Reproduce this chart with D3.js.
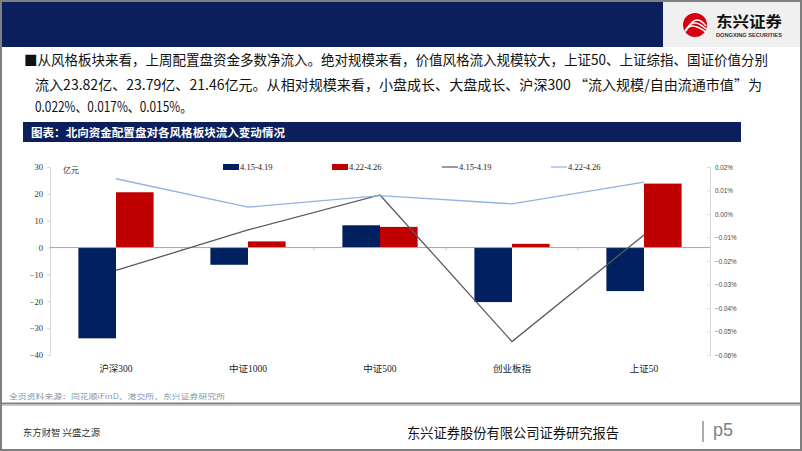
<!DOCTYPE html>
<html><head><meta charset="utf-8">
<script src="https://cdn.jsdelivr.net/npm/d3@7/dist/d3.min.js"></script>
<style>body{margin:0;background:#fff}svg{display:block}</style>
</head><body>
<script>
const categories = ["沪深300","中证1000","中证500","创业板指","上证50"];
const barSeriesNames = ["4.15-4.19","4.22-4.26"];
const barWeek1 = [-33.8,-6.4,8.3,-20.3,-16.2];     // 亿元
const barWeek2 = [20.6,2.3,7.7,1.4,23.82];          // 亿元
const lineWeek1 = [-0.024,-0.0068,0.0081,-0.0543,-0.0089]; // %
const lineWeek2 = [0.015,0.0029,0.0078,0.0043,0.0136];     // %
const leftTicks = [-40,-30,-20,-10,0,10,20,30];
const rightTicks = [-0.06,-0.05,-0.04,-0.03,-0.02,-0.01,0,0.01,0.02];

const W=802,H=451;
const svg=d3.select("body").append("svg").attr("width",W).attr("height",H);
const CJK="'Noto Sans CJK SC','Noto Sans',sans-serif";
const SERIF="'Liberation Serif','Noto Sans CJK SC',serif";

// header
svg.append("rect").attr("x",0).attr("y",0).attr("width",663).attr("height",47).attr("fill","#0b1f5c");
svg.append("rect").attr("x",663).attr("y",0).attr("width",139).attr("height",47).attr("fill","#f0f0f0");
// logo
const lg=svg.append("g");
lg.append("circle").attr("cx",695).attr("cy",25).attr("r",12).attr("fill","#d7000f");
[[-7,3],[-3,0],[1,-3]].forEach(([dx,dy],i)=>{
  lg.append("path").attr("d",`M${684+i*2},${31+dy} Q${695+dx},${16+dy} ${706},${29+dy}`).attr("stroke","#fff").attr("stroke-width",1.6).attr("fill","none");
});
lg.append("text").attr("x",716).attr("y",27).attr("font-family",CJK).attr("font-weight","bold").attr("font-size",15).attr("fill","#111").attr("textLength",66).attr("lengthAdjust","spacingAndGlyphs").text("东兴证券");
lg.append("text").attr("x",716).attr("y",37).attr("font-family","'Liberation Sans',sans-serif").attr("font-weight","bold").attr("font-size",4.5).attr("fill","#333").attr("textLength",66).attr("lengthAdjust","spacingAndGlyphs").text("DONGXING SECURITIES");

// body text
const bodyLines=[
 {x:24,y:65,len:744,t:"■从风格板块来看，上周配置盘资金多数净流入。绝对规模来看，价值风格流入规模较大，上证50、上证综指、国证价值分别"},
 {x:35,y:90,len:727,t:"流入23.82亿、23.79亿、21.46亿元。从相对规模来看，小盘成长、大盘成长、沪深300 “流入规模/自由流通市值”为"},
 {x:35,y:112,len:157,t:"0.022%、0.017%、0.015%。"}
];
bodyLines.forEach(l=>svg.append("text").attr("x",l.x).attr("y",l.y).attr("font-family",CJK).attr("font-size",14).attr("fill","#111")
  .attr("textLength",l.len).attr("lengthAdjust","spacingAndGlyphs").text(l.t));

// title bar
svg.append("rect").attr("x",23).attr("y",122).attr("width",718).attr("height",20).attr("fill","#0b1f5c");
svg.append("text").attr("x",31).attr("y",136.5).attr("font-family",CJK).attr("font-weight","bold").attr("font-size",11.5).attr("fill","#fff")
  .attr("textLength",254).attr("lengthAdjust","spacingAndGlyphs").text("图表：北向资金配置盘对各风格板块流入变动情况");

// chart
const x=d3.scaleBand().domain(categories).range([50,710]).paddingInner(0.43).paddingOuter(0.215);
const xStep=d3.scaleBand().domain(categories).range([50,710]);
const x1=d3.scaleBand().domain(barSeriesNames).range([0,x.bandwidth()]);
const yL=d3.scaleLinear().domain([-40,30]).range([355,167]);
const yR=d3.scaleLinear().domain([-0.06,0.02]).range([355,167]);

// left axis
const ga=svg.append("g").attr("transform","translate(50,0)")
  .call(d3.axisLeft(yL).tickValues(leftTicks).tickSize(3).tickPadding(4).tickFormat(d3.format("d")));
ga.select(".domain").attr("stroke","#d9d9d9");
ga.selectAll(".tick line").attr("stroke","#d9d9d9");
ga.selectAll(".tick text").attr("font-family",SERIF).attr("font-size",8.5).attr("fill","#333");
// right axis
const gr=svg.append("g").attr("transform","translate(710,0)")
  .call(d3.axisRight(yR).tickValues(rightTicks).tickSize(-3).tickPadding(5).tickFormat(d=>d3.format(".2f")(d)+"%"));
gr.select(".domain").attr("stroke","#d9d9d9");
gr.selectAll(".tick line").attr("stroke","#d9d9d9");
gr.selectAll(".tick text").attr("font-family","'Liberation Sans',sans-serif").attr("font-size",6.3).attr("fill","#444");

svg.append("text").attr("x",63).attr("y",173).attr("font-family",CJK).attr("font-size",8).attr("fill","#333").text("亿元");

// bars
const barData=[barWeek1,barWeek2];
const barColors=["#002060","#c00000"];
barData.forEach((vals,si)=>{
  svg.append("g").selectAll("rect").data(vals).join("rect")
   .attr("x",(d,i)=>x(categories[i])+x1(barSeriesNames[si]))
   .attr("width",x1.bandwidth())
   .attr("y",d=>yL(Math.max(0,d)))
   .attr("height",d=>Math.abs(yL(d)-yL(0)))
   .attr("fill",barColors[si]);
});
// baseline with category ticks
svg.append("line").attr("x1",50).attr("x2",710).attr("y1",yL(0)).attr("y2",yL(0)).attr("stroke","#a6a6a6");
categories.forEach((c,i)=>{ if(i>0) svg.append("line").attr("x1",xStep(c)).attr("x2",xStep(c)).attr("y1",yL(0)).attr("y2",yL(0)+3).attr("stroke","#bfbfbf");});

// lines
const lineData=[lineWeek1,lineWeek2];
const lineColors=["#595959","#8eb4e3"];
const cx=c=>x(c)+x.bandwidth()/2;
lineData.forEach((vals,si)=>{
  svg.append("path").datum(vals)
   .attr("d",d3.line().x((d,i)=>cx(categories[i])).y(d=>yR(d)))
   .attr("fill","none").attr("stroke",lineColors[si]).attr("stroke-width",1.3);
});

// category labels
svg.append("g").selectAll("text").data(categories).join("text")
  .attr("x",d=>cx(d)).attr("y",372).attr("text-anchor","middle")
  .attr("font-family",SERIF).attr("font-size",9.5).attr("fill","#222").text(d=>d);

// legend
const leg=[{t:"rect",c:barColors[0],x:223,n:barSeriesNames[0]},{t:"rect",c:barColors[1],x:332,n:barSeriesNames[1]},
           {t:"line",c:lineColors[0],x:442,n:barSeriesNames[0]},{t:"line",c:lineColors[1],x:551,n:barSeriesNames[1]}];
leg.forEach(l=>{
  if(l.t==="rect") svg.append("rect").attr("x",l.x).attr("y",164).attr("width",16).attr("height",6).attr("fill",l.c);
  else svg.append("line").attr("x1",l.x).attr("x2",l.x+16).attr("y1",167).attr("y2",167).attr("stroke",l.c).attr("stroke-width",1.2);
  svg.append("text").attr("x",l.x+17).attr("y",170).attr("font-family",SERIF).attr("font-size",8.5).attr("fill","#222").text(l.n);
});

// source
svg.append("text").attr("x",9).attr("y",399).attr("font-family",CJK).attr("font-size",7).attr("fill","#8497b0")
  .attr("textLength",216).attr("lengthAdjust","spacingAndGlyphs").text("全页资料来源：同花顺iFinD、港交所、东兴证券研究所");

// footer
svg.append("line").attr("x1",0).attr("x2",W).attr("y1",403.5).attr("y2",403.5).attr("stroke","#808080").attr("stroke-width",2);
svg.append("line").attr("x1",0).attr("x2",W).attr("y1",405.5).attr("y2",405.5).attr("stroke","#c8c8c8").attr("stroke-width",1);
svg.append("text").attr("x",23).attr("y",436).attr("font-family",CJK).attr("font-size",9.5).attr("fill","#333")
  .attr("textLength",77).attr("lengthAdjust","spacingAndGlyphs").text("东方财智 兴盛之源");
svg.append("text").attr("x",407).attr("y",438).attr("font-family",CJK).attr("font-size",13.5).attr("fill","#111")
  .attr("textLength",212).attr("lengthAdjust","spacingAndGlyphs").text("东兴证券股份有限公司证券研究报告");
svg.append("line").attr("x1",703).attr("x2",703).attr("y1",421).attr("y2",442).attr("stroke","#7f7f7f").attr("stroke-width",1.3);
svg.append("text").attr("x",713).attr("y",436).attr("font-family","'Liberation Sans',sans-serif").attr("font-size",18).attr("fill","#7f7f7f").text("p5");

// frame
svg.append("rect").attr("x",1).attr("y",1).attr("width",W-2).attr("height",H-2).attr("fill","none").attr("stroke","#7f7f7f").attr("stroke-width",2);
</script>
</body></html>
